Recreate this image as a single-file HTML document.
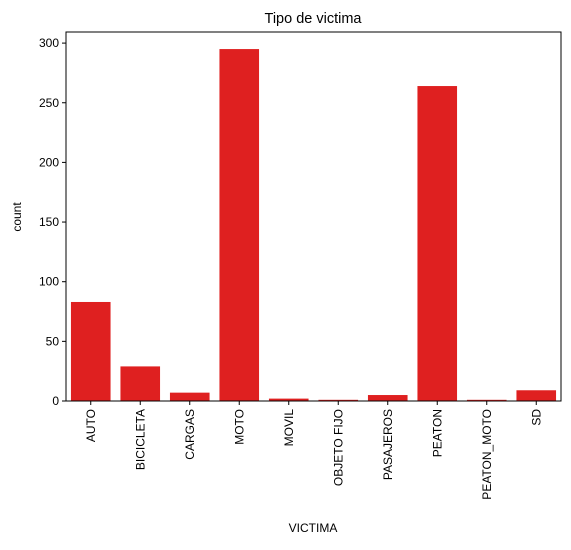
<!DOCTYPE html>
<html><head><meta charset="utf-8"><style>
body{margin:0;background:#fff;}
svg text{font-family:"Liberation Sans","DejaVu Sans",sans-serif;fill:#000;}
</style></head><body>
<svg id="chart" width="571" height="545" xmlns="http://www.w3.org/2000/svg">
<text x="313" y="23" font-size="14.5" text-anchor="middle">Tipo de victima</text>
<text x="313" y="532" font-size="12" text-anchor="middle">VICTIMA</text>
<text transform="translate(21,217) rotate(-90)" font-size="12" text-anchor="middle">count</text>
<g id="marks"></g>
<rect x="66" y="32" width="495" height="369" fill="none" stroke="#000" stroke-width="1"/>
</svg>
<script>
const categories=["AUTO","BICICLETA","CARGAS","MOTO","MOVIL","OBJETO FIJO","PASAJEROS","PEATON","PEATON_MOTO","SD"];
const counts=[83,29,7,295,2,1,5,264,1,9];
const yTicks=[0,50,100,150,200,250,300];
const L=66,R=561,T=32,B=401,ppu=1.193;
const y=v=>B-v*ppu;
const bw=(R-L)/categories.length;
const x=i=>L+bw*(i+0.5);
const g=document.getElementById('marks');
const NS='http://www.w3.org/2000/svg';
function mk(t,a){const e=document.createElementNS(NS,t);for(const k in a)e.setAttribute(k,a[k]);g.appendChild(e);return e;}
categories.forEach((c,i)=>{
  const r=mk('rect',{x:x(i)-bw*0.4,y:y(counts[i]),width:bw*0.8,height:B-y(counts[i]),fill:'#df2020'});
  
  
  const tk=mk('line',{x1:x(i),x2:x(i),y1:B,y2:B+4,stroke:'#000'});
  
  
  const t=mk('text',{transform:`translate(${x(i)+4},${B+8}) rotate(-90)`,'font-size':12,'text-anchor':'end'});
  t.textContent=c;
  
  
});
yTicks.forEach(v=>{
  const tk=mk('line',{x1:L-4,x2:L,y1:y(v),y2:y(v),stroke:'#000'});
  
  
  const t=mk('text',{x:L-7,y:y(v)+4,'font-size':12,'text-anchor':'end'});
  t.textContent=v;
  
  
});
</script>
</body></html>
